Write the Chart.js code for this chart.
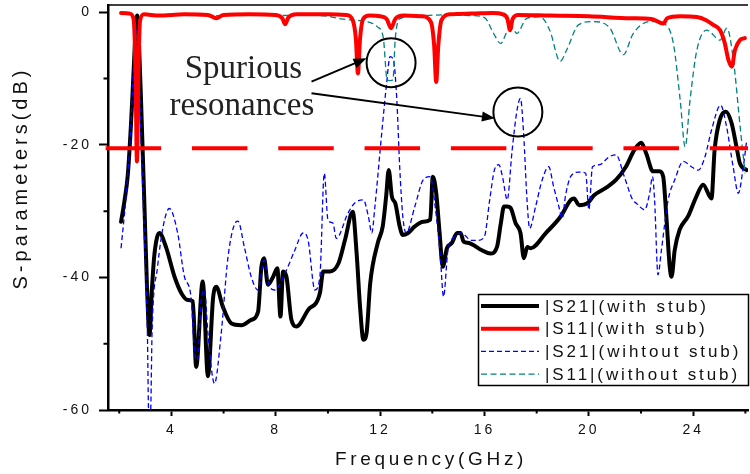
<!DOCTYPE html>
<html>
<head>
<meta charset="utf-8">
<title>S-parameters</title>
<script src="https://cdn.jsdelivr.net/npm/chart.js"></script>
<style>
  body { margin: 0; background: #fff; }
  canvas { display: block; }
</style>
</head>
<body>
<canvas id="chart" width="750" height="474"></canvas>
<script>
// |S21| with stub (GHz, dB)
const s21StubFreq = [2.07, 2.2, 2.33, 2.45, 2.55, 2.64, 2.69, 2.76, 2.85, 2.96, 3.06, 3.16, 3.25, 3.35, 3.54, 3.8, 4.12, 4.4, 4.63, 4.82, 4.95, 5.2, 5.4, 5.6, 5.72, 5.97, 6.29, 6.68, 7.06, 7.32, 7.45, 7.55, 7.7, 7.9, 8.06, 8.18, 8.28, 8.41, 8.6, 8.79, 9.24, 9.69, 9.82, 10.08, 10.4, 10.65, 10.95, 11.1, 11.23, 11.36, 11.48, 11.62, 11.91, 12.1, 12.23, 12.33, 12.45, 12.58, 12.75, 12.87, 13.07, 13.33, 13.65, 13.92, 14.02, 14.15, 14.28, 14.4, 14.56, 14.75, 14.95, 15.08, 15.2, 15.4, 15.9, 16.23, 16.48, 16.62, 16.75, 16.87, 17.0, 17.19, 17.38, 17.51, 17.64, 17.77, 18.35, 18.92, 19.31, 19.43, 19.63, 19.95, 20.2, 20.65, 21.04, 21.42, 21.74, 22.01, 22.2, 22.46, 22.71, 22.85, 22.97, 23.1, 23.17, 23.29, 23.48, 23.8, 24.12, 24.38, 24.7, 24.82, 25.02, 25.25, 25.47, 25.66, 25.79, 26.05];
const s21StubDb = [-31.6, -28.5, -24.5, -17, -9, -2, -0.5, -5, -15, -28.3, -40.9, -48.7, -42, -36.5, -33.3, -35.5, -39.9, -42.5, -43.4, -43.6, -53.5, -40.6, -54.9, -43, -41.4, -44.4, -46.9, -47.2, -46.4, -45.2, -38.4, -37.1, -41.1, -39.9, -38.6, -45.9, -39.1, -39.9, -46.4, -47.4, -44.9, -42.4, -39.1, -39.1, -37.9, -34.4, -30.1, -36.4, -44.4, -49.4, -48.4, -40.9, -34.8, -32.3, -27.8, -23.8, -27.8, -28.8, -32.3, -33.6, -33.3, -32.3, -31.6, -31.3, -24.8, -27.3, -33.3, -38.4, -35.6, -34.8, -33.3, -33.3, -34.6, -34.8, -35.9, -36.4, -35.4, -32, -29.3, -29.3, -29.5, -31.8, -33.3, -37.1, -35.4, -35.6, -33.3, -30.8, -28.3, -28.1, -29.1, -28.8, -27.6, -26.5, -25.3, -23.3, -20.8, -19.7, -21.3, -24.0, -24.0, -24.8, -30.8, -38.4, -39.9, -35.9, -32.8, -30.8, -27.8, -26.0, -28.1, -20.8, -16.2, -15.0, -16.7, -20.3, -22.8, -23.8];

// |S11| with stub
const s11StubFreq = [2.07, 2.4, 2.55, 2.62, 2.68, 2.74, 2.8, 2.95, 3.5, 4.5, 5.4, 5.72, 6.0, 7.0, 8.0, 8.25, 8.36, 8.48, 8.8, 10.0, 10.7, 10.95, 11.07, 11.15, 11.23, 11.35, 11.6, 12.0, 12.25, 12.42, 12.58, 12.9, 13.6, 13.95, 14.07, 14.15, 14.23, 14.35, 14.7, 15.5, 16.3, 16.7, 16.88, 16.98, 17.08, 17.3, 18.5, 20.0, 21.6, 22.4, 22.86, 23.0, 23.5, 24.14, 24.5, 24.77, 25.03, 25.2, 25.35, 25.48, 25.6, 25.79, 25.98];
const s11StubDb = [-0.1, -0.2, -1.0, -8, -22.5, -8, -1.2, -0.3, -0.5, -0.3, -0.4, -0.9, -0.4, -0.3, -0.4, -0.9, -1.8, -0.8, -0.3, -0.3, -0.4, -1.2, -4, -9.2, -4, -1.0, -0.5, -0.6, -1.0, -2.4, -1.0, -0.5, -0.6, -1.5, -5, -10.5, -5, -1.2, -0.3, -0.2, -0.1, -0.3, -1.0, -2.7, -1.0, -0.4, -0.5, -0.6, -0.9, -1.0, -1.7, -0.9, -0.6, -0.7, -1.2, -1.9, -2.7, -4.5, -7.2, -8.2, -5.7, -4.2, -3.9];

// |S21| without stub
const s21NoStubFreq = [2.07, 2.26, 2.45, 2.55, 2.64, 2.72, 2.83, 2.96, 3.08, 3.13, 3.2, 3.26, 3.47, 3.7, 3.92, 4.24, 4.5, 4.75, 4.88, 5.0, 5.14, 5.27, 5.4, 5.65, 5.91, 6.17, 6.48, 6.55, 6.8, 7.06, 7.32, 7.55, 7.77, 7.96, 8.35, 8.73, 9.05, 9.24, 9.5, 9.69, 9.86, 10.0, 10.19, 10.32, 10.77, 11.02, 11.36, 11.55, 11.68, 11.8, 12.06, 12.25, 12.38, 12.51, 12.64, 12.75, 12.87, 13.0, 13.33, 13.65, 13.92, 14.11, 14.3, 14.43, 14.6, 14.88, 15.11, 15.5, 15.76, 16.0, 16.2, 16.38, 16.55, 16.7, 16.87, 17.06, 17.25, 17.38, 17.5, 17.63, 17.73, 17.96, 18.21, 18.46, 18.65, 18.85, 18.98, 19.1, 19.3, 19.63, 19.88, 20.0, 20.14, 20.4, 20.78, 21.04, 21.36, 21.68, 21.82, 22.14, 22.33, 22.44, 22.52, 22.65, 22.78, 23.04, 23.29, 23.62, 23.93, 24.2, 24.45, 24.7, 25.05, 25.28, 25.53, 25.73, 25.92, 26.05];
const s21NoStubDb = [-35.6, -27.8, -17, -8, -2.7, -5, -18.2, -33.3, -48.4, -60.5, -60.5, -48, -38.4, -32, -29.6, -33.3, -39.9, -42.9, -50.9, -52.5, -43.4, -41.9, -48.4, -56.0, -48.4, -36.9, -31.6, -31.5, -35.5, -39.9, -41.9, -37.4, -41.4, -41.9, -39.4, -35.9, -33.3, -34.4, -41.9, -39.9, -24.3, -31.3, -31.8, -34.1, -30.3, -28.8, -28.3, -30.8, -33.3, -29.3, -18.3, -10.7, -6.7, -7.2, -13.2, -23.3, -30.8, -33.3, -29.3, -25.3, -24.8, -29.3, -36.4, -42.9, -35.9, -33.8, -33.3, -34.4, -34.4, -33.8, -28.3, -23.8, -23, -25, -28.3, -20.8, -14.7, -13, -18.3, -28.3, -32.6, -29.3, -25.3, -23.3, -26.3, -29.3, -31.1, -27.8, -24.8, -24.1, -24.3, -29.8, -23.3, -23.0, -21.8, -21.5, -24.8, -28.3, -28.8, -29.8, -27.3, -24.8, -28.3, -39.6, -35.9, -28.3, -25.3, -22.5, -23.3, -23.8, -21.8, -17.8, -14.0, -17.3, -23.3, -27.3, -23.3, -19.3];

// |S11| without stub
const s11NoStubFreq = [2.07, 2.45, 2.6, 2.68, 2.76, 2.9, 4.0, 5.5, 6.5, 8.0, 9.0, 10.0, 10.5, 11.0, 11.5, 11.9, 12.12, 12.27, 12.38, 12.49, 12.58, 12.75, 13.5, 14.5, 15.5, 16.0, 16.35, 16.62, 16.87, 17.05, 17.24, 17.62, 18.13, 18.5, 18.9, 19.15, 19.6, 20.17, 20.81, 21.32, 21.7, 22.35, 22.86, 23.24, 23.5, 23.69, 23.88, 24.14, 24.52, 25.03, 25.29, 25.54, 25.8, 25.99];
const s11NoStubDb = [-0.1, -0.3, -2, -4.6, -2, -0.3, -0.4, -0.5, -0.4, -0.5, -0.4, -0.6, -1.0, -1.2, -1.4, -2.2, -3.8, -10.2, -10.3, -10.2, -4, -1.0, -0.5, -0.4, -0.5, -0.8, -3.2, -4.7, -2.9, -2.3, -3.2, -0.9, -0.7, -2.7, -7.4, -5.7, -1.9, -1.4, -2.4, -6.4, -3.2, -1.4, -1.7, -4.7, -13.2, -20.3, -13.2, -5.7, -2.7, -4.2, -2.4, -7.2, -17.3, -24.3];

// reference level line
const refFreq = [1.48, 26.1];
const refDb = [-20.5, -20.5];

const xTicks = [4, 8, 12, 16, 20, 24];
const xMinor = [2, 6, 10, 14, 18, 22, 26];
const yTicks = [0, -20, -40, -60];
const yMinor = [-10, -30, -50];

const legendLabels = ['|S21|(with stub)', '|S11|(with stub)', '|S21|(wihtout stub)', '|S11|(without stub)'];

// annotation anchors in data units
const noteText = [['Spurious', 4.51, -9.9], ['resonances', 3.93, -15.5]];
const noteArrows = [[9.37, -10.47, 11.48, -6.94], [9.37, -12.22, 16.40, -15.99]];
const noteCircles = [[12.42, -7.6], [17.28, -15.04]];

const pts = (xs, ys) => xs.map((v, i) => ({ x: v, y: ys[i] }));

const series = {
  s21Stub: { color: '#000000', width: 4, dash: [] },
  s11Stub: { color: '#ff0000', width: 4, dash: [] },
  s21No: { color: '#0000ff', width: 1.3, dash: [5, 3] },
  s11No: { color: '#008080', width: 1.3, dash: [6, 3.5] }
};
const legendOrder = ['s21Stub', 's11Stub', 's21No', 's11No'];

const SANS = '"Liberation Sans", Arial, sans-serif';

function arrow(ctx, x0, y0, x1, y1) {
  const ang = Math.atan2(y1 - y0, x1 - x0);
  const len = 13, hw = 5;
  ctx.beginPath();
  ctx.moveTo(x0, y0);
  ctx.lineTo(x1 - Math.cos(ang) * len * 0.8, y1 - Math.sin(ang) * len * 0.8);
  ctx.stroke();
  ctx.beginPath();
  ctx.moveTo(x1, y1);
  ctx.lineTo(x1 - Math.cos(ang) * len - Math.sin(ang) * hw, y1 - Math.sin(ang) * len + Math.cos(ang) * hw);
  ctx.lineTo(x1 - Math.cos(ang) * len + Math.sin(ang) * hw, y1 - Math.sin(ang) * len - Math.cos(ang) * hw);
  ctx.closePath();
  ctx.fill();
}

const overlay = {
  id: 'overlay',
  beforeDraw(chart) {
    chart.ctx.letterSpacing = '3px';
  },
  afterDraw(chart) {
    const { ctx, chartArea: a, scales: { x, y } } = chart;
    ctx.save();
    ctx.letterSpacing = '0px';
    ctx.strokeStyle = '#000';
    ctx.fillStyle = '#000';

    // top frame line
    ctx.lineWidth = 1.6;
    ctx.beginPath();
    ctx.moveTo(a.left, a.top);
    ctx.lineTo(a.right, a.top);
    ctx.stroke();

    // minor ticks
    ctx.lineWidth = 2;
    ctx.beginPath();
    xMinor.forEach(v => {
      const px = x.getPixelForValue(v);
      ctx.moveTo(px, a.bottom);
      ctx.lineTo(px, a.bottom + 3.5);
    });
    yMinor.forEach(v => {
      const py = y.getPixelForValue(v);
      ctx.moveTo(a.left, py);
      ctx.lineTo(a.left - 4.5, py);
    });
    ctx.stroke();

    // axis titles
    ctx.fillStyle = '#111';
    ctx.font = '19px ' + SANS;
    ctx.letterSpacing = '3.7px';
    ctx.textAlign = 'center';
    ctx.textBaseline = 'alphabetic';
    ctx.fillText('Frequency(GHz)', 431, 465);
    ctx.save();
    ctx.translate(27, 178);
    ctx.rotate(-Math.PI / 2);
    ctx.font = '20px ' + SANS;
    ctx.letterSpacing = '4px';
    ctx.fillText('S-parameters(dB)', 0, 0);
    ctx.restore();

    // annotations
    ctx.letterSpacing = '0px';
    ctx.fillStyle = '#222';
    ctx.font = '33px "Liberation Serif", "Times New Roman", serif';
    ctx.textAlign = 'left';
    noteText.forEach(([t, fx, fy]) => ctx.fillText(t, x.getPixelForValue(fx), y.getPixelForValue(fy)));
    ctx.strokeStyle = '#000';
    ctx.fillStyle = '#000';
    ctx.lineWidth = 2;
    noteArrows.forEach(([fx0, fy0, fx1, fy1]) => arrow(ctx,
      x.getPixelForValue(fx0), y.getPixelForValue(fy0),
      x.getPixelForValue(fx1), y.getPixelForValue(fy1)));
    noteCircles.forEach(([fx, fy]) => {
      ctx.beginPath();
      ctx.arc(x.getPixelForValue(fx), y.getPixelForValue(fy), 24.5, 0, Math.PI * 2);
      ctx.stroke();
    });

    // legend
    const lw = 270, lh = 91;
    const lx = a.right - lw, ly = a.bottom - 116;
    ctx.fillStyle = '#fff';
    ctx.fillRect(lx, ly, lw, lh);
    ctx.lineWidth = 1.5;
    ctx.strokeStyle = '#000';
    ctx.strokeRect(lx + 0.5, ly + 0.5, lw, lh);
    ctx.font = '17px ' + SANS;
    ctx.letterSpacing = '2.9px';
    ctx.textBaseline = 'middle';
    legendOrder.forEach((k, i) => {
      const s = series[k];
      const ry = ly + 12 + i * 22.7;
      ctx.strokeStyle = s.color;
      ctx.lineWidth = s.width;
      ctx.setLineDash(s.dash);
      ctx.beginPath();
      ctx.moveTo(lx + 3, ry);
      ctx.lineTo(lx + 61, ry);
      ctx.stroke();
      ctx.setLineDash([]);
      ctx.fillStyle = '#111';
      ctx.fillText(legendLabels[i], lx + 67, ry + 1);
    });
    ctx.restore();
  }
};

const line = (data, s, extra) => Object.assign({
  data: data,
  borderColor: s.color,
  borderWidth: s.width,
  borderDash: s.dash,
  pointRadius: 0,
  fill: false,
  cubicInterpolationMode: 'monotone',
  borderJoinStyle: 'round',
  borderCapStyle: s.dash.length ? 'butt' : 'round'
}, extra || {});

new Chart(document.getElementById('chart').getContext('2d'), {
  type: 'line',
  data: {
    datasets: [
      line(pts(refFreq, refDb), { color: '#ff0000', width: 4, dash: [55.5, 30.8] },
        { cubicInterpolationMode: 'default', tension: 0, borderCapStyle: 'butt', clip: 6 }),
      line(pts(s11StubFreq, s11StubDb), series.s11Stub),
      line(pts(s11NoStubFreq, s11NoStubDb), series.s11No),
      line(pts(s21NoStubFreq, s21NoStubDb), series.s21No),
      line(pts(s21StubFreq, s21StubDb), series.s21Stub)
    ]
  },
  options: {
    responsive: false,
    animation: false,
    layout: { padding: { left: 0, right: 2, top: 5, bottom: 0 } },
    plugins: { legend: { display: false }, tooltip: { enabled: false } },
    scales: {
      x: {
        type: 'linear',
        min: 1.57,
        max: 26.1,
        afterFit: s => { s.height = 64; s.paddingLeft = 0; s.paddingRight = 0; },
        afterBuildTicks: s => { s.ticks = xTicks.map(v => ({ value: v })); },
        ticks: { font: { family: SANS, size: 14 }, color: '#111', padding: 6, maxRotation: 0, callback: v => String(v) },
        grid: { drawOnChartArea: false, drawTicks: true, tickLength: 6, tickWidth: 2, tickColor: '#000' },
        border: { display: true, width: 2.5, color: '#000' }
      },
      y: {
        min: -60,
        max: 1.1,
        afterFit: s => { s.width = 108; s.paddingTop = 0; s.paddingBottom = 0; },
        afterBuildTicks: s => { s.ticks = yTicks.map(v => ({ value: v })); },
        ticks: { font: { family: SANS, size: 14 }, color: '#111', padding: 7, callback: v => String(v) },
        grid: { drawOnChartArea: false, drawTicks: true, tickLength: 9, tickWidth: 2, tickColor: '#000' },
        border: { display: true, width: 2.5, color: '#000' }
      }
    }
  },
  plugins: [overlay]
});
</script>
</body>
</html>
